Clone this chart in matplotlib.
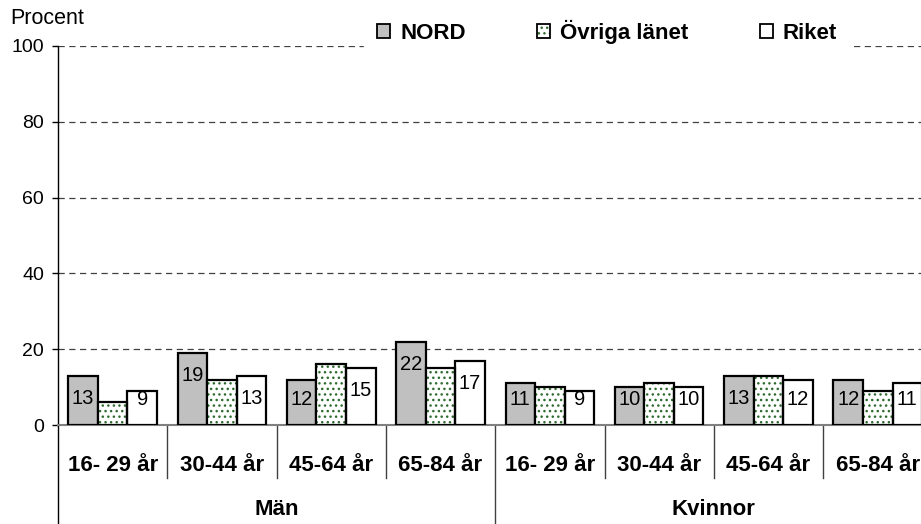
import numpy as np
import matplotlib.pyplot as plt
from matplotlib.patches import Patch
from matplotlib.legend_handler import HandlerTuple
from matplotlib.transforms import blended_transform_factory

plt.rcParams['font.family'] = ['Liberation Sans', 'DejaVu Sans']

age_groups = ["16- 29 år", "30-44 år", "45-64 år", "65-84 år"]
sexes = ["Män", "Kvinnor"]
series_names = ["NORD", "Övriga länet", "Riket"]

nord = [13, 19, 12, 22, 11, 10, 13, 12]
ovriga = [6, 12, 16, 15, 10, 11, 13, 9]
riket = [9, 13, 15, 17, 9, 10, 12, 11]

y_ticks = [0, 20, 40, 60, 80, 100]


def label_y(v):
    # labels sit a bit under the bar top, but never lower than a floor
    return max(v - 6, 6.8)


fig = plt.figure(figsize=(9.21, 5.24), dpi=100)
ax = fig.add_axes([58/921, 1-425/524, 874.4/921, 379/524])

n = len(nord)
x = np.arange(n) + 0.5
w = 0.27
green = "#2e6b2e"

ax.bar(x - w, nord, w, color="#c0c0c0", edgecolor="black", lw=1.6, zorder=3)
ax.bar(x, ovriga, w, color="white", edgecolor=green, hatch="...", lw=0, zorder=3)
ax.bar(x, ovriga, w, fill=False, edgecolor="black", lw=1.6, zorder=4)
ax.bar(x + w, riket, w, color="white", edgecolor="black", lw=1.6, zorder=3)

for xi, v in zip(x - w, nord):
    ax.text(xi, label_y(v), str(v), ha="center", va="center", fontsize=14.5, zorder=5)
for xi, v in zip(x + w, riket):
    ax.text(xi, label_y(v), str(v), ha="center", va="center", fontsize=14.5, zorder=5)

ax.set_xlim(0, n)
ax.set_ylim(0, 100)
ax.set_yticks(y_ticks)
ax.tick_params(axis="y", labelsize=14, length=4, width=1, pad=6, direction="out")
ax.set_xticks([])
ax.yaxis.grid(True, linestyle=(0, (5, 3.6)), color="#404040", lw=0.9, zorder=0)
for s in ["top", "right"]:
    ax.spines[s].set_visible(False)
ax.spines["bottom"].set_color("#808080")
ax.spines["bottom"].set_linewidth(1.5)
ax.spines["left"].set_linewidth(1)

trans = blended_transform_factory(ax.transData, ax.transAxes)
labels = age_groups * len(sexes)
for xi, lab in zip(x, labels):
    ax.text(xi, -0.108, lab, transform=trans, ha="center", va="center",
            fontsize=16, fontweight="bold")
for i in range(1, n):
    low = -0.262 if i == 4 else -0.14
    ax.plot([i, i], [0, low], transform=trans, color="#404040", lw=1, clip_on=False)
ax.plot([0, 0], [0, -0.262], transform=trans, color="black", lw=1, clip_on=False)
for j, sx in enumerate(sexes):
    ax.text(j * 4 + 2, -0.224, sx, transform=trans, ha="center", va="center",
            fontsize=16, fontweight="bold")

fig.text(10/921, 1-19/524, "Procent", fontsize=15.5, ha="left", va="center")

h1 = Patch(facecolor="#c0c0c0", edgecolor="black", lw=1.3)
h2a = Patch(facecolor="white", edgecolor=green, hatch="...", lw=0)
h2b = Patch(fill=False, edgecolor="black", lw=1.3)
h3 = Patch(facecolor="white", edgecolor="black", lw=1.3)
leg = ax.legend([h1, (h2a, h2b), h3], series_names, ncol=3, loc="center",
                bbox_to_anchor=(607/921, 1-32/524), bbox_transform=fig.transFigure,
                handler_map={tuple: HandlerTuple(ndivide=1, pad=0)},
                prop={"size": 16, "weight": "bold"}, handlelength=0.6,
                handleheight=0.6, handletextpad=0.45, columnspacing=3.2,
                frameon=True, fancybox=False, borderpad=0.6, borderaxespad=0)
leg.get_frame().set_edgecolor("white")
leg.get_frame().set_facecolor("white")
leg.get_frame().set_alpha(1)
leg.set_zorder(10)

fig.savefig("out.png", dpi=100)
